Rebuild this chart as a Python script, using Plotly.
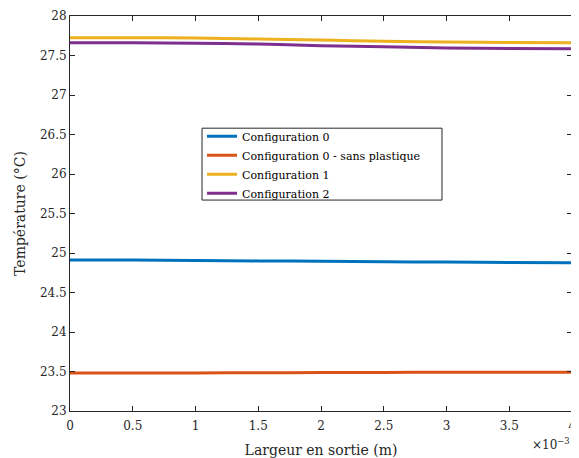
import plotly.graph_objects as go

x_m = [0, 0.0005, 0.001, 0.0015, 0.002, 0.0025, 0.003, 0.0035, 0.004]
config0 = [24.91, 24.91, 24.905, 24.9, 24.895, 24.89, 24.885, 24.88, 24.878]
config0_sp = [23.48, 23.48, 23.482, 23.484, 23.486, 23.488, 23.49, 23.49, 23.49]
config1 = [27.725, 27.725, 27.72, 27.71, 27.695, 27.68, 27.67, 27.665, 27.66]
config2 = [27.66, 27.66, 27.655, 27.645, 27.625, 27.61, 27.595, 27.59, 27.585]
names = ["Configuration 0", "Configuration 0 - sans plastique", "Configuration 1", "Configuration 2"]
colors = ["#0072BD", "#D95319", "#EDB120", "#7E2F8E"]
xtick_vals = [0, 0.0005, 0.001, 0.0015, 0.002, 0.0025, 0.003, 0.0035, 0.004]
xtick_text = ["0", "0.5", "1", "1.5", "2", "2.5", "3", "3.5", "4"]
ytick_vals = [23, 23.5, 24, 24.5, 25, 25.5, 26, 26.5, 27, 27.5, 28]
ytick_text = ["23", "23.5", "24", "24.5", "25", "25.5", "26", "26.5", "27", "27.5", "28"]

FONT = "DejaVu Serif"
fig = go.Figure()
for name, ys, c in zip(names, [config0, config0_sp, config1, config2], colors):
    fig.add_trace(go.Scatter(x=x_m, y=ys, mode="lines", name=name,
                             line=dict(color=c, width=3, shape="spline")))

axis_common = dict(showline=True, linecolor="#262626", linewidth=1, mirror="ticks",
                   ticks="inside", ticklen=5, tickcolor="#262626", showgrid=False,
                   zeroline=False, automargin=False,
                   tickfont=dict(family=FONT, size=12, color="#262626"))
fig.update_layout(
    width=571, height=450,
    margin=dict(l=62, r=7, t=8, b=47, autoexpand=False),
    paper_bgcolor="white", plot_bgcolor="white",
    font=dict(family=FONT, size=12, color="#262626"),
    xaxis=dict(range=[0, 0.004], tickvals=xtick_vals, ticktext=xtick_text,
               ticklabelstandoff=4,
               title=dict(text="Largeur en sortie (m)", font=dict(family=FONT, size=14), standoff=12),
               **axis_common),
    yaxis=dict(range=[23, 28], tickvals=ytick_vals, ticktext=ytick_text,
               title=dict(text="Température (°C)", font=dict(family=FONT, size=14), standoff=10),
               **axis_common),
    legend=dict(x=0.263, y=0.732, xanchor="left", yanchor="top",
                bgcolor="rgba(0,0,0,0)", borderwidth=0,
                font=dict(family=FONT, size=11, color="black"),
                tracegroupgap=0, itemwidth=30),
    showlegend=True,
)
fig.add_shape(type="rect", xref="paper", yref="paper", x0=0.263, x1=0.741, y0=0.534, y1=0.716,
              line=dict(color="#262626", width=1), fillcolor="white", layer="above")
fig.add_annotation(xref="paper", yref="paper", x=1.0, y=-0.058, xanchor="right", yanchor="top",
                   text="×10<sup>−3</sup>", showarrow=False,
                   font=dict(family=FONT, size=12, color="#262626"))
fig.write_html("out.html")
